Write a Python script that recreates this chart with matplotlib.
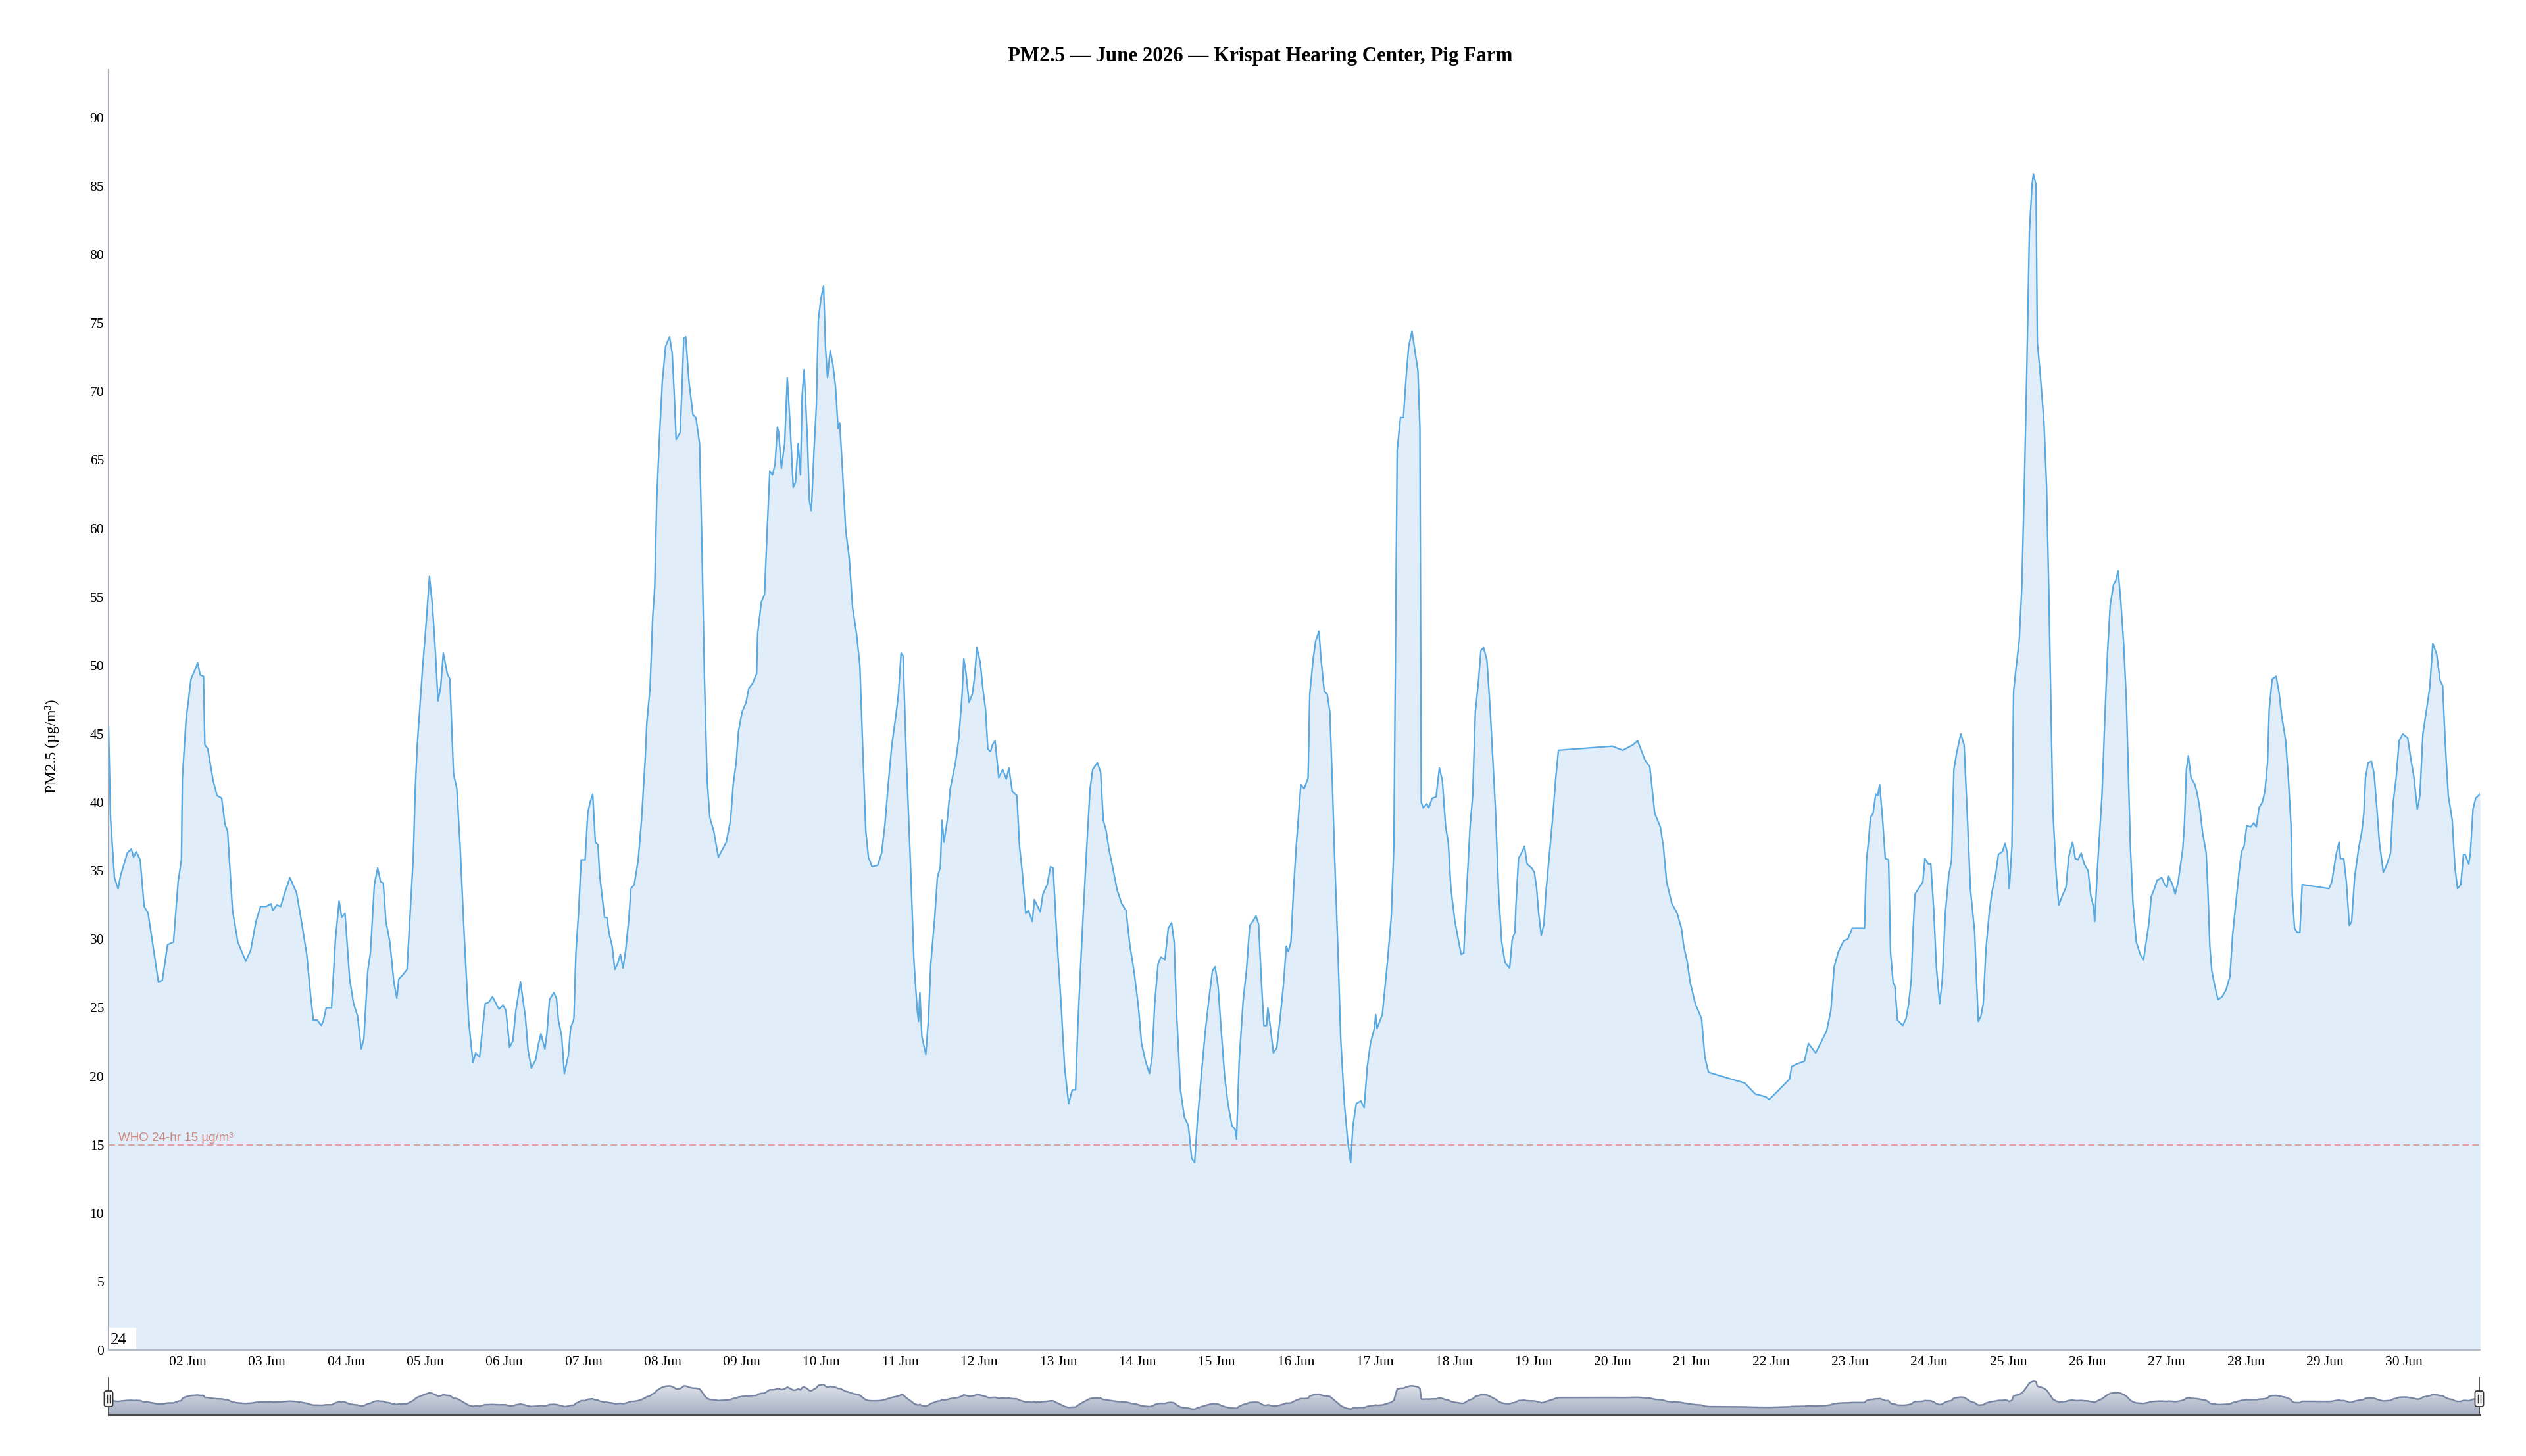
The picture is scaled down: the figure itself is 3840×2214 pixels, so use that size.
import numpy as np
import matplotlib
matplotlib.use("Agg")
import matplotlib.pyplot as plt
import matplotlib.transforms as mtransforms
from matplotlib.patches import Rectangle, FancyBboxPatch
from matplotlib.lines import Line2D
from matplotlib.colors import LinearSegmentedColormap

plt.rcParams["font.family"] = ["Liberation Serif", "DejaVu Serif"]

# ---------------- data ----------------
TITLE = "PM2.5 — June 2026 — Krispat Hearing Center, Pig Farm"
Y_LABEL = "PM2.5 (µg/m³)"
WHO_LABEL = "WHO 24-hr 15 µg/m³"
WHO_LIMIT = 15
CORNER_LABEL = "24"
START = np.datetime64("2026-06-01T00:00")
END_HOUR = 719
Y_MAX = 93.5
Y_TICKS = list(range(0, 95, 5))
X_TICK_DAYS = list(range(2, 31))
X_TICK_LABELS = [f"{d:02d} Jun" for d in X_TICK_DAYS]

# hours after 01 Jun 00:00, and PM2.5 readings (µg/m³)
HOURS = [
    0, 0.6, 1.8, 2.9, 3.7, 5.7, 6.9, 7.6, 8.4, 9.6, 10.8, 12.0, 13.5, 15.1, 16.3, 17.9, 19.7, 21.1, 22.1, 22.4,
    23.5, 25.0, 26.6, 27.0, 27.8, 28.8, 29.2, 30.1, 31.7, 32.9, 34.3, 35.3, 36.1, 37.6, 39.2, 40.4, 41.6, 43.1,
    44.7, 46.1, 47.8, 49.3, 49.8, 51.0, 52.2, 53.3, 55.0, 57.0, 58.5, 60.1, 61.3, 62.1, 63.3, 64.5, 65.2, 66.0,
    67.6, 68.8, 69.9, 70.7, 71.7, 73.1, 74.3, 75.5, 76.6, 77.4, 78.6, 79.4, 80.6, 81.6, 82.5, 83.3, 84.1, 85.3,
    86.5, 87.4, 88.0, 89.2, 90.5, 91.4, 92.4, 93.0, 93.6, 95.1, 96.4, 97.3, 98.2, 99.1, 99.9, 100.7, 101.5,
    102.7, 103.5, 104.6, 105.6, 106.6, 107.8, 109.2, 110.5, 111.3, 112.5, 114.2, 115.3, 116.4, 118.4,
    119.6, 120.5, 121.6, 122.6, 123.5, 124.9, 126.4, 127.2, 128.2, 129.5, 130.3, 131.1, 132.3, 132.9, 133.7,
    135.0, 135.8, 136.4, 137.4, 138.2, 139.4, 140.1, 141.1, 141.7, 142.5, 143.3, 144.5, 145.3, 146.0, 146.8,
    147.6, 148.4, 148.9, 150.4, 151.1, 151.8, 152.7, 153.5, 154.3, 155.2, 156.0, 156.8, 157.8, 158.4, 159.4,
    160.6, 161.6, 162.7, 163.2, 164.2, 165.0, 165.6, 166.2, 167.0, 167.9, 168.9, 170.1, 170.9, 171.5, 172.1,
    173.3, 173.9, 174.4, 175.0, 176.0, 177.2, 178.1, 179.2, 179.9, 180.7, 181.5, 182.3, 183.5, 184.9, 186.2,
    187.3, 188.6, 189.4, 190.3, 191.0, 192.1, 193.3, 194.1, 195.3, 196.5, 196.8, 197.9, 198.9, 199.7, 200.5,
    201.3, 202.1, 202.8, 203.2, 204.0, 205.0, 205.8, 206.6, 207.6, 208.3, 209.1, 209.8, 210.3, 210.9, 211.9,
    212.5, 213.1, 213.9, 214.6, 215.2, 216.0, 216.8, 217.4, 218.0, 218.8, 219.6, 220.4, 221.2, 221.7, 222.5,
    223.5, 224.6, 225.6, 226.8, 227.8, 228.8, 229.6, 230.4, 231.5, 233.2, 234.4, 235.4, 236.4, 237.5, 238.7,
    239.5,
    240.3, 240.9, 241.9, 243.1, 244.2, 245.2, 245.6, 246.0, 246.6, 247.8, 248.6, 249.3, 250.5, 251.3, 252.2,
    252.7, 253.3, 254.3, 255.2, 256.8, 257.8, 258.8, 259.3, 260.0, 260.9, 261.9, 262.5, 263.3, 264.3, 265.1,
    265.9, 266.6, 267.4, 268.0, 268.8, 269.9, 271.1, 272.2, 273.0, 274.0, 275.4, 276.2, 277.0, 278.1, 278.9,
    280.1, 280.7, 281.7, 282.5, 283.3, 284.6, 285.6, 286.4, 287.6, 288.8, 289.9, 291.1, 292.2, 293.2, 293.9,
    294.7, 295.4, 296.6, 297.6, 298.4, 299.8, 300.8, 301.6, 302.5, 303.3, 304.5, 305.8, 307.2, 308.5, 309.7,
    310.9, 312.2, 313.2, 314.4, 315.6, 316.4, 317.2, 318.2, 319.1, 320.3, 321.3, 322.3, 323.1, 323.8, 325.0,
    326.2, 327.4, 328.4, 329.3, 330.1, 331.3, 332.5, 333.7, 334.7, 335.5, 336.4, 337.4, 338.4, 339.4, 340.6,
    341.6, 342.0, 342.8, 344.0, 345.0, 346.0, 346.9, 347.9, 348.7, 349.5, 350.3, 351.1, 351.5, 352.2, 353.2,
    354.2, 355.2, 356.2, 357.1, 357.7, 358.5, 359.3, 360.1,
    361.5, 362.5, 363.7, 364.2, 365.2, 366.0, 367.0, 367.6, 368.6, 369.5, 370.3, 371.0, 371.7, 372.7, 373.6,
    374.7, 375.7, 376.6, 377.3, 378.3, 379.7, 380.7, 381.6, 382.6, 383.8, 384.2, 384.6, 386.2, 387.7, 388.9,
    389.7, 390.2, 390.7, 391.7, 392.6, 393.4, 394.2, 395.2, 396.2, 397.0, 397.6, 398.0, 398.6, 399.7, 400.3,
    401.3, 402.5, 403.5, 404.4, 405.4, 406.2, 407.0, 408.2, 409.4, 410.1, 410.9, 411.7, 412.8, 413.6, 414.4,
    415.3, 416.1, 416.9, 417.9, 418.9, 419.7, 420.5, 421.5, 422.4, 423.4, 424.8, 425.6, 426.4, 426.7, 427.5,
    428.6, 429.3, 430.1, 431.5, 432.3, 433.0, 433.6, 434.4, 435.2, 435.8, 436.7, 437.8, 438.8, 439.6, 455.9,
    459.1, 462.2, 463.6, 465.8, 467.3, 468.8, 470.5, 471.4, 472.4, 474.0, 475.6, 476.9, 477.6, 478.7, 479.5,
    481.1,
    483.0, 484.0, 485.1, 486.3, 496.1, 499.3, 502.4, 503.5, 505.2, 509.7, 510.3, 511.9, 514.2, 515.4, 517.6,
    520.9, 522.2, 523.2, 524.5, 526.1, 527.3, 528.7, 532.4, 533.0, 533.6, 534.2, 535.0, 535.8, 536.4, 537.0,
    537.9, 538.7, 539.7, 540.3, 541.1, 541.6, 542.4, 544.0, 545.0, 545.8, 546.6, 547.1, 547.7, 548.5, 550.1,
    550.7, 551.7, 552.5, 553.4, 554.2, 555.2, 556.0, 556.9, 557.9, 558.8, 559.5, 560.4, 561.6, 562.6, 563.6,
    564.5, 565.8, 566.3, 566.9, 567.7, 568.4, 569.2, 570.2, 571.0, 572.2, 573.0, 574.2, 575.0, 575.7, 576.3,
    577.1, 577.6, 578.3, 579.3, 580.1, 580.9, 581.6, 582.4, 583.2, 583.6, 584.4, 584.8, 585.6, 586.8, 587.6,
    588.3, 588.9, 589.5, 590.5, 591.3, 592.4, 593.5, 594.3, 595.5, 596.3, 597.1, 598.1, 599.0, 600.2, 601.0,
    601.8,
    602.2, 603.1, 604.4, 605.3, 606.1, 606.9, 607.9, 608.6, 609.3, 610.1, 611.0, 611.8, 612.4, 613.0, 613.8,
    614.8, 616.0, 617.0, 617.9, 618.7, 619.3, 620.3, 621.1, 622.5, 623.4, 624.1, 624.6, 625.8, 626.6, 627.5,
    628.9, 629.4, 630.0, 630.6, 631.4, 632.6, 633.4, 634.1, 634.9, 636.0, 636.5, 637.1, 637.7, 638.6, 639.6,
    640.8, 642.0, 643.2, 644.0, 645.1, 645.9, 646.7, 647.5, 648.3, 649.5, 650.4, 651.2, 652.0, 653.0, 653.8,
    654.6, 655.1, 656.0, 657.2, 658.1, 658.9, 660.1, 660.9, 661.7, 662.1, 662.8, 663.6, 664.4, 665.1, 673.2,
    674.1, 675.4, 676.3, 676.7, 677.7, 678.5, 679.4, 680.1, 681.0, 682.2, 683.2, 683.8, 684.3, 685.1, 686.1,
    686.9, 687.7, 688.5, 689.7, 690.5, 691.1, 691.9, 692.7, 693.6, 694.5, 695.6, 697.1, 697.9, 699.0, 700.0,
    700.8, 701.7, 702.7, 703.8, 704.7, 705.9, 706.9, 707.7, 708.5, 709.4, 710.6, 711.4, 712.2, 713.2, 714.0,
    714.5, 715.6, 716.1, 716.9, 717.7, 719.0,
]
PM25 = [
    45.5, 38.9, 34.5, 33.7, 34.7, 36.3, 36.6, 36.0, 36.4, 35.8, 32.4, 31.9, 29.5, 26.9, 27.0, 29.6, 29.8, 34.2, 35.8, 41.8,
    46.0, 49.0, 49.9, 50.2, 49.3, 49.2, 44.2, 43.9, 41.6, 40.5, 40.3, 38.4, 37.9, 32.1, 29.8, 29.1, 28.4, 29.2,
    31.3, 32.4, 32.4, 32.6, 32.1, 32.5, 32.4, 33.3, 34.5, 33.4, 31.3, 28.9, 25.8, 24.1, 24.1, 23.7, 24.1, 25.0,
    25.0, 30.0, 32.8, 31.6, 31.9, 27.1, 25.3, 24.4, 22.0, 22.7, 27.7, 29.0, 34.0, 35.2, 34.2, 34.1, 31.3, 29.8,
    26.9, 25.7, 27.1, 27.4, 27.8, 31.7, 36.0, 41.0, 44.2, 49.4, 53.4, 56.5, 54.4, 51.0, 47.4, 48.4, 50.9,
    49.4, 49.0, 42.1, 41.0, 36.8, 30.5, 24.0, 21.0, 21.7, 21.4, 25.3, 25.4, 25.8, 24.9,
    25.2, 24.8, 22.1, 22.6, 24.8, 26.9, 24.3, 21.9, 20.6, 21.2, 22.3, 23.1, 22.0, 23.1, 25.6,
    26.1, 25.7, 24.1, 22.9, 20.2, 21.5, 23.5, 24.2, 29.0, 31.9, 35.8, 35.8, 39.2, 40.0, 40.6,
    37.1, 36.9, 34.7, 31.6, 31.6, 30.4, 29.5, 27.8, 28.2, 28.9, 27.9, 29.2, 31.6, 33.7, 34.0,
    35.8, 38.7, 43.1, 45.8, 48.4, 53.6, 55.7, 62.0, 66.5, 70.7, 73.3, 74.0, 72.8, 69.9, 66.5,
    67.0, 70.4, 73.9, 74.0, 70.7, 68.3, 68.1, 66.2, 58.9, 48.9, 41.6, 38.9, 37.9, 36.0, 36.6,
    37.1, 38.7, 41.3, 42.9, 45.2, 46.6, 47.3, 48.3, 48.7, 49.4, 52.3, 54.6, 55.2, 59.9, 64.2,
    63.9, 64.7, 67.4, 67.0, 64.4, 66.2, 71.0, 67.8, 63.0, 63.4, 66.2, 63.9, 69.7, 71.6, 66.5,
    62.0, 61.3, 65.7, 68.9, 75.2, 76.8, 77.7, 73.1, 71.0, 73.0, 72.0, 70.4, 67.3, 67.7, 64.4,
    59.9, 57.8, 54.2, 52.3, 50.0, 43.1, 37.9, 36.0, 35.3, 35.4, 36.3, 38.4, 41.3, 44.2, 46.3,
    47.9,
    50.9, 50.7, 43.1, 35.8, 28.4, 24.8, 24.0, 26.1, 22.9, 21.6, 24.2, 28.2, 31.6, 34.5, 35.3,
    38.7, 37.1, 38.7, 41.0, 42.9, 44.7, 47.9, 50.5, 49.4, 47.3, 47.9, 49.0, 51.3, 50.2, 48.3,
    46.8, 43.9, 43.7, 44.2, 44.5, 41.8, 42.4, 41.7, 42.5, 40.8, 40.5, 36.8, 35.0, 31.9, 32.1,
    31.3, 32.9, 32.4, 32.0, 33.3, 34.0, 35.3, 35.2, 29.8, 25.3, 20.6, 18.0, 19.0, 19.0, 23.7,
    27.9, 31.3, 36.8, 41.0, 42.4, 42.9, 42.2, 38.7, 37.9, 36.6, 35.2, 33.6, 32.6, 32.1, 29.5,
    27.7, 25.2, 22.4, 21.1, 20.2, 21.4, 25.3, 28.2, 28.7, 28.5, 30.8, 31.2, 29.8, 24.8, 19.0,
    17.0, 16.4, 14.0, 13.7, 16.6, 20.0, 23.2, 25.8, 27.7, 28.0, 26.6, 23.2, 20.0, 18.0, 16.4,
    16.1, 15.4, 21.1, 25.5, 27.7, 31.0, 31.3, 31.7, 31.1, 27.1, 23.7, 23.7, 25.0, 23.7, 21.7,
    22.1, 24.2, 26.6, 29.5, 29.1, 29.8, 33.7, 36.8,
    41.3, 41.0, 41.8, 47.9, 50.4, 51.8, 52.5, 50.5, 48.1, 47.9, 46.6, 41.8, 36.3, 29.5, 22.7,
    18.0, 15.3, 13.7, 16.4, 18.0, 18.2, 17.7, 20.6, 22.4, 23.5, 24.5, 23.5, 24.5, 28.2, 31.6,
    36.8, 51.5, 65.7, 68.1, 68.1, 71.0, 73.3, 74.4, 72.8, 71.5, 67.3, 40.0, 39.6, 39.9, 39.6,
    40.3, 40.4, 42.5, 41.6, 38.2, 37.1, 33.7, 31.3, 29.8, 28.9, 29.0, 33.2, 38.2, 40.5, 46.6,
    48.7, 51.1, 51.3, 50.4, 46.8, 43.1, 39.5, 33.2, 29.8, 28.3, 27.9, 30.0, 30.5, 32.4, 35.9,
    36.4, 36.8, 35.5, 35.2, 34.9, 33.7, 31.9, 30.3, 31.1, 33.4, 35.8, 38.7, 41.8, 43.8, 44.1,
    43.8, 44.2, 44.5, 43.1, 42.6, 39.2, 38.2, 36.8, 34.2, 32.6, 31.9, 30.8, 29.5, 28.3, 26.9,
    25.3,
    24.2, 21.4, 20.3, 20.2, 19.5, 18.7, 18.5, 18.3, 18.7, 19.8, 20.7, 20.9, 21.1, 22.4, 21.7,
    23.3, 24.8, 28.0, 29.1, 29.9, 30.0, 30.8, 30.8, 35.8, 37.1, 38.9, 39.2, 40.6, 40.5, 41.3,
    38.7, 35.9, 35.8, 29.0, 26.8, 26.6, 24.1, 23.7, 24.2, 25.3, 27.1, 30.5, 33.3, 33.6, 34.2,
    35.9, 35.5, 35.5, 32.1, 27.9, 25.3, 27.1, 31.9, 34.6, 35.8, 42.4, 43.7, 45.0, 44.2, 38.9,
    33.7, 30.5, 27.4, 24.0, 24.4, 25.3, 29.2, 31.9, 33.4, 34.8, 36.2, 36.4, 37.0, 36.3, 33.7,
    36.8, 48.1, 49.7, 51.8, 55.7, 63.6, 71.5, 81.7, 85.1, 85.9, 85.1, 73.6, 71.5, 67.8, 63.1,
    55.2, 47.4, 39.5, 34.8, 32.5, 33.2, 33.8, 36.0, 37.1, 35.9, 35.8, 36.3, 35.5, 35.0, 33.2,
    32.4,
    31.3, 35.5, 40.5, 46.3, 51.0, 54.4, 55.9, 56.2, 56.9, 54.7, 51.5, 47.4, 42.1, 36.8, 32.6,
    29.8, 28.9, 28.5, 30.0, 31.3, 33.1, 33.7, 34.3, 34.5, 34.0, 33.8, 34.6, 34.0, 33.3, 34.2,
    36.6, 38.4, 42.4, 43.4, 41.8, 41.3, 40.5, 39.5, 37.8, 36.3, 33.7, 29.5, 27.7, 26.6, 25.6,
    25.8, 26.3, 27.3, 30.3, 32.9, 34.8, 36.4, 36.8, 38.3, 38.2, 38.5, 38.2, 39.6, 40.0, 40.8,
    42.9, 46.8, 49.0, 49.2, 48.0, 46.3, 44.5, 41.8, 38.4, 33.2, 30.8, 30.5, 30.5, 34.0, 33.7,
    34.2, 36.2, 37.1, 35.9, 35.9, 34.2, 31.0, 31.3, 34.5, 36.6, 37.9, 39.2, 41.8, 42.9, 43.0,
    42.1, 39.7, 37.1, 34.9, 35.3, 35.7, 36.3, 40.0, 41.8, 44.5, 45.0, 44.7, 43.4, 41.8, 39.5,
    40.5, 45.0, 46.6, 48.4, 51.6, 50.8, 48.9, 48.5, 44.2, 40.5, 38.7, 35.3, 33.7, 34.0, 36.2,
    36.2, 35.5, 36.3, 39.5, 40.3, 40.6,
]

# ---------------- layout (pixel geometry of the target) ----------------
W, H = 3840, 2214
fig = plt.figure(figsize=(W / 100, H / 100), dpi=100)
fig.patch.set_facecolor("white")


def fx(px):
    return px / W


def fy(py):
    return 1 - py / H


L, R, T, B = 165, 3770, 106, 2053

times = START + np.round(np.array(HOURS) * 60).astype(int).astype("timedelta64[m]")
values = np.array(PM25)
x_end = START + np.timedelta64(END_HOUR, "h")

ax = fig.add_axes([fx(L), fy(B), fx(R) - fx(L), fy(T) - fy(B)])
ax.set_facecolor("white")
ax.fill_between(times, values, 0, color="#e1eef9", lw=0, zorder=1)
ax.plot(times, values, color="#5aa9e0", lw=1.7, zorder=3, solid_joinstyle="round")
ax.axhline(WHO_LIMIT, color="#e3a19c", lw=1.4, ls=(0, (5, 2.7)), zorder=2)
ax.set_xlim(START, x_end)
ax.set_ylim(0, Y_MAX)

for s in ("top", "right"):
    ax.spines[s].set_visible(False)
ax.spines["left"].set_color("#a0a8b3")
ax.spines["left"].set_linewidth(1.5)
ax.spines["bottom"].set_color("#b3bcc8")
ax.spines["bottom"].set_linewidth(1.5)

ax.set_yticks(Y_TICKS)
ax.tick_params(axis="y", length=0, pad=5, labelsize=15.5, colors="black")
tick_dates = [START + np.timedelta64(24 * (d - 1), "h") for d in X_TICK_DAYS]
ax.set_xticks(tick_dates)
ax.set_xticklabels(X_TICK_LABELS)
ax.tick_params(axis="x", length=0, pad=6.5, labelsize=15.5, colors="black")

# WHO label
blend = mtransforms.blended_transform_factory(ax.transAxes, ax.transData)
ax.annotate(WHO_LABEL, xy=((180 - L) / (R - L), WHO_LIMIT), xycoords=blend,
            xytext=(0, 4), textcoords="offset points", ha="left", va="baseline",
            fontsize=13.5, color="#d0887e", family=["Liberation Sans", "DejaVu Sans"], zorder=4)

# titles
fig.text(fx(1916), fy(85), TITLE, ha="center", va="center", fontsize=22.3, fontweight="bold")
fig.text(fx(79), fy(1135), Y_LABEL, ha="center", va="center", rotation=90, fontsize=17)

# small corner box
fig.patches.append(Rectangle((fx(166), fy(2051)), fx(207) - fx(166), fy(2019) - fy(2051),
                             transform=fig.transFigure, facecolor="white", edgecolor="none", zorder=5))
fig.text(fx(168), fy(2044), CORNER_LABEL, ha="left", va="baseline", fontsize=18, zorder=6)

# ---------------- navigator ----------------
NB, NT = 2151, 2098
axn = fig.add_axes([fx(L), fy(NB), fx(R) - fx(L), fy(NT) - fy(NB)])
axn.set_xlim(START, x_end)
axn.set_ylim(0, 90)
axn.axis("off")
coll = axn.fill_between(times, values, 0, facecolor="none", lw=0)
x0n, x1n = axn.get_xlim()
grad = np.linspace(0, 1, 256).reshape(-1, 1)
cmap = LinearSegmentedColormap.from_list("nav", ["#a5afc2", "#e8ebf0"])
im = axn.imshow(grad, extent=[x0n, x1n, 0, 90], origin="lower", aspect="auto", cmap=cmap, zorder=1)
im.set_clip_path(coll.get_paths()[0], transform=axn.transData)
axn.plot(times, values, color="#7886a3", lw=1.8, zorder=3)
axn.set_xlim(x0n, x1n)
axn.set_ylim(0, 90)

# navigator bottom line and edge lines
fig.lines.append(Line2D([fx(L), fx(R)], [fy(NB), fy(NB)], transform=fig.transFigure,
                        color="#4a4a4a", lw=2.2, zorder=6))
for xe in (L, R - 1):
    fig.lines.append(Line2D([fx(xe), fx(xe)], [fy(2095), fy(NB)], transform=fig.transFigure,
                            color="#444444", lw=1.3, zorder=6))
    cx, cy = xe, H - 2127
    hp = FancyBboxPatch((cx - 6.5, cy - 12), 13, 24, boxstyle="round,pad=0,rounding_size=3",
                        transform=mtransforms.IdentityTransform(), facecolor="#f2f2f2",
                        edgecolor="#333333", lw=1.3, zorder=7)
    fig.patches.append(hp)
    for dx in (-2, 2):
        fig.lines.append(Line2D([cx + dx, cx + dx], [cy - 6, cy + 6],
                                transform=mtransforms.IdentityTransform(),
                                color="#333333", lw=1.0, zorder=8))

fig.savefig("out.png", dpi=100, facecolor="white")
